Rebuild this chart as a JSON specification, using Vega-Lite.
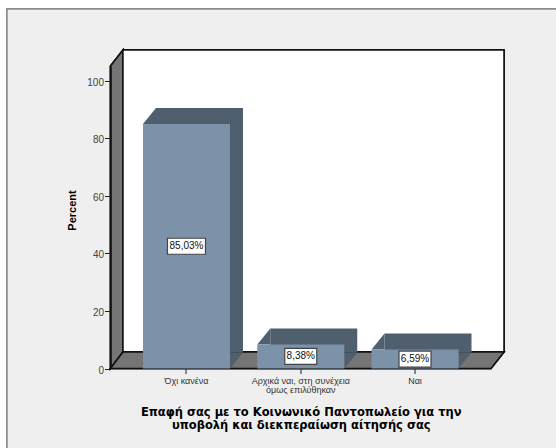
{
"$schema":"https://vega.github.io/schema/vega-lite/v6.json",
"width":380.5,"height":302.5,
"autosize":{"type":"none"},
"padding":{"left":110.5,"top":66,"right":65,"bottom":79.5},
"background":"#ffffff",
"config":{"view":{"stroke":null},"font":"Liberation Sans"},
"data":{"values":[
{"category":"Όχι κανένα","pct":85.03,"share":"85,03%"},
{"category":"Αρχικά ναι, στη συνέχεια όμως επιλύθηκαν","pct":8.38,"share":"8,38%"},
{"category":"Ναι","pct":6.59,"share":"6,59%"}
]},
"transform":[{"calculate":"datum.pct/2","as":"mid"}],
"encoding":{
"x":{"field":"category","type":"nominal","sort":null,
"scale":{"paddingOuter":0.165,"paddingInner":0,"align":0.5},
"axis":{"zindex":1,"title":["Επαφή σας με το Κοινωνικό Παντοπωλείο για την","υποβολή και διεκπεραίωση αίτησής σας"],"titleFont":"DejaVu Sans","titleFontSize":11.5,"titleFontWeight":"bold","titleColor":"#000000","titlePadding":12,"titleLineHeight":12.5,"labelAngle":0,"labelFont":"Liberation Sans","labelFontSize":9,"labelColor":"#333333","labelLineHeight":9,"labelPadding":3,"tickColor":"#222222","tickSize":5,"tickWidth":1,"domain":false,"labelExpr":"indexof(datum.label,'όμως')>0?['Αρχικά ναι, στη συνέχεια','όμως επιλύθηκαν']:datum.label"}},
"y":{"field":"pct","type":"quantitative","scale":{"domain":[0,105.2],"nice":false},
"axis":{"zindex":1,"title":"Percent","titleFont":"Liberation Sans","titleFontSize":11,"titleFontWeight":"bold","titleColor":"#000000","titleY":144,"titleX":-33.5,"values":[0,20,40,60,80,100],"grid":false,"labelFont":"Liberation Sans","labelFontSize":10,"labelColor":"#444444","labelPadding":1,"labelOffset":1.5,"tickColor":"#222222","tickSize":6,"tickWidth":1,"domainColor":"#111111","domainWidth":1.5}}
},
"layer":[
{"mark":{"type":"point","filled":true,"opacity":1,"size":4,"fill":"#efefef","stroke":"#8c8c8c","strokeWidth":1.5,"shape":"M-179.5 -359.5H400V120H-179.5Z"},
 "encoding":{"x":{"datum":"Όχι κανένα"},"y":{"datum":0}}},
{"mark":{"type":"point","filled":true,"opacity":1,"size":4,"fill":"#757575","stroke":"#111111","strokeWidth":1.5,"shape":"M-76 0L-63.5 -16.5V-318.5L-76 -302.5Z"},
 "encoding":{"x":{"datum":"Όχι κανένα"},"y":{"datum":0}}},
{"mark":{"type":"point","filled":true,"opacity":1,"size":4,"fill":"#ffffff","stroke":"#111111","strokeWidth":1.5,"shape":"M-63.5 -16.5V-318.5H317.5V-16.5Z"},
 "encoding":{"x":{"datum":"Όχι κανένα"},"y":{"datum":0}}},
{"mark":{"type":"point","filled":true,"opacity":1,"size":4,"fill":"#757575","stroke":"#111111","strokeWidth":1.5,"shape":"M-76 0L-63.5 -16.5H317.5L304.5 0Z"},
 "encoding":{"x":{"datum":"Όχι κανένα"},"y":{"datum":0}}},
{"mark":{"type":"bar","size":87,"color":"#4f5f6e","xOffset":13,"yOffset":-16}},
{"mark":{"type":"point","filled":true,"opacity":1,"size":4,"fill":"#4f5f6e","shape":"M-43.5 0L-30.5 -16V0Z"}},
{"mark":{"type":"point","filled":true,"opacity":1,"size":4,"fill":"#4f5f6e","shape":"M43.5 0L56.5 -16H43.5Z"},
 "encoding":{"y":{"datum":0}}},
{"mark":{"type":"bar","size":87,"color":"#7b92a8"}},
{"transform":[{"filter":"datum.pct>50"}],"mark":{"type":"point","filled":true,"opacity":1,"size":4,"fill":"#ffffff","stroke":"#444444","strokeWidth":1.2,"shape":"M-19 -8H19V8H-19Z"},
 "encoding":{"y":{"field":"mid","type":"quantitative"}}},
{"transform":[{"filter":"datum.pct<50"}],"mark":{"type":"point","filled":true,"opacity":1,"size":4,"fill":"#ffffff","stroke":"#444444","strokeWidth":1.2,"shape":"M-16 -8H16V8H-16Z"},
 "encoding":{"y":{"field":"mid","type":"quantitative"}}},
{"mark":{"type":"text","font":"Liberation Sans","fontSize":10,"color":"#111111"},
 "encoding":{"y":{"field":"mid","type":"quantitative"},"text":{"field":"share"}}}
]
}
